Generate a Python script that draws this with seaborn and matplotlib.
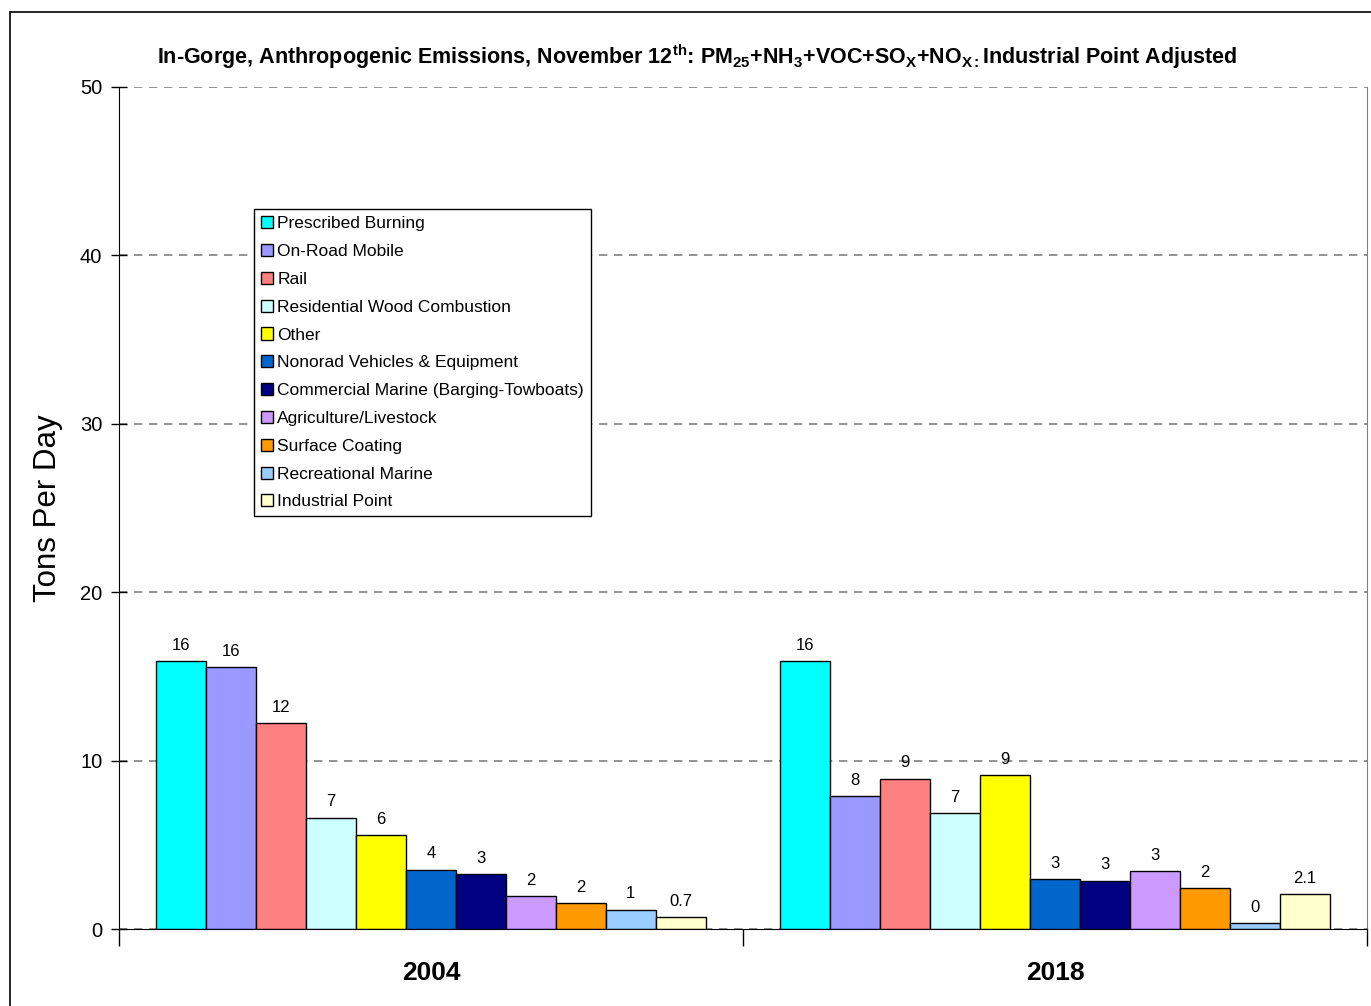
import numpy as np
import pandas as pd
import matplotlib.pyplot as plt
import matplotlib.patches as mpatches
import seaborn as sns

### Data
years = ["2004", "2018"]
sources = ["Prescribed Burning", "On-Road Mobile", "Rail", "Residential Wood Combustion",
           "Other", "Nonorad Vehicles & Equipment", "Commercial Marine (Barging-Towboats)",
           "Agriculture/Livestock", "Surface Coating", "Recreational Marine", "Industrial Point"]
tons_2004 = [15.92, 15.55, 12.23, 6.62, 5.58, 3.54, 3.28, 1.96, 1.56, 1.16, 0.71]
tons_2018 = [15.92, 7.89, 8.94, 6.90, 9.14, 2.97, 2.88, 3.45, 2.43, 0.37, 2.09]
labels_2004 = ["16", "16", "12", "7", "6", "4", "3", "2", "2", "1", "0.7"]
labels_2018 = ["16", "8", "9", "7", "9", "3", "3", "3", "2", "0", "2.1"]
colors = ["#00FFFF", "#9999FF", "#FF8080", "#CCFFFF", "#FFFF00", "#0066CC",
          "#000080", "#CC99FF", "#FF9900", "#99CCFF", "#FFFFCC"]

df = pd.DataFrame({
    "year": [years[0]] * len(sources) + [years[1]] * len(sources),
    "source": sources + sources,
    "tons": tons_2004 + tons_2018,
})

sns.set_style("white")
plt.rcParams["font.family"] = ["Liberation Sans", "DejaVu Sans"]
plt.rcParams["text.color"] = "black"
plt.rcParams["axes.labelcolor"] = "black"
plt.rcParams["xtick.color"] = "black"
plt.rcParams["ytick.color"] = "black"
plt.rcParams["mathtext.fontset"] = "custom"
plt.rcParams["mathtext.rm"] = "Liberation Sans:bold"
plt.rcParams["mathtext.it"] = "Liberation Sans:bold"
plt.rcParams["mathtext.bf"] = "Liberation Sans:bold"

fig = plt.figure(figsize=(13.71, 10.06), dpi=100)
ax = fig.add_axes([119 / 1371, 1 - 929.3 / 1006, 1248 / 1371, 842.3 / 1006])

sns.barplot(data=df, x="year", y="tons", hue="source", hue_order=sources,
            palette=colors, width=0.88, edgecolor="black", linewidth=1.0,
            saturation=1, ax=ax, legend=False)

### bar labels
for i, cont in enumerate(ax.containers):
    ax.bar_label(cont, labels=[labels_2004[i], labels_2018[i]], padding=6,
                 fontsize=12, color="black")

ax.set_xlim(-0.5, 1.5)
ax.set_ylim(0, 50)
ax.set_yticks([0, 10, 20, 30, 40, 50])
ax.yaxis.grid(True, linestyle=(0, (5, 4)), color="#808080", linewidth=1.2)
ax.set_axisbelow(True)
ax.tick_params(axis="y", left=True, direction="inout", length=12, width=1,
               labelsize=14.5, pad=6)
ax.tick_params(axis="x", which="major", bottom=True, length=0, labelsize=19, pad=23)
ax.set_xticks([-0.5, 0.5, 1.5], minor=True)
ax.tick_params(axis="x", which="minor", bottom=True, direction="out", length=12, width=1)
for lbl in ax.get_xticklabels():
    lbl.set_fontweight("bold")
ax.set_xlabel("")
ax.set_ylabel("Tons Per Day", fontsize=22.5, labelpad=12)

ax.spines["top"].set_visible(False)
ax.spines["right"].set_color("#808080")
ax.spines["left"].set_color("black")
ax.spines["bottom"].set_color("black")

handles = [mpatches.Patch(facecolor=c, edgecolor="black", linewidth=1) for c in colors]
leg = ax.legend(handles, sources, loc="upper left", bbox_to_anchor=(0.108, 0.855),
                borderaxespad=0, fontsize=12.5, handlelength=0.7, handleheight=0.7,
                handletextpad=0.25, labelspacing=0.73, borderpad=0.4, fancybox=False,
                framealpha=1)
leg.get_frame().set_edgecolor("black")
leg.get_frame().set_linewidth(1)

title = ("In-Gorge, Anthropogenic Emissions, November 12$^{\\mathrm{th}}$: "
         "PM$_{\\mathrm{25}}$+NH$_{\\mathrm{3}}$+VOC+SO$_{\\mathrm{X}}$+NO$_{\\mathrm{X:}}$"
         "Industrial Point Adjusted")
fig.text(697 / 1371, 1 - 57 / 1006, title, ha="center", va="center",
         fontsize=15.5, fontweight="bold")

### outer chart border
border = mpatches.Rectangle((10 / 1371, -0.1), 1.2, 1.1 - 12 / 1006,
                            transform=fig.transFigure, fill=False,
                            edgecolor="black", linewidth=1.2, clip_on=False)
fig.patches.append(border)

fig.savefig("out.png", dpi=100)
